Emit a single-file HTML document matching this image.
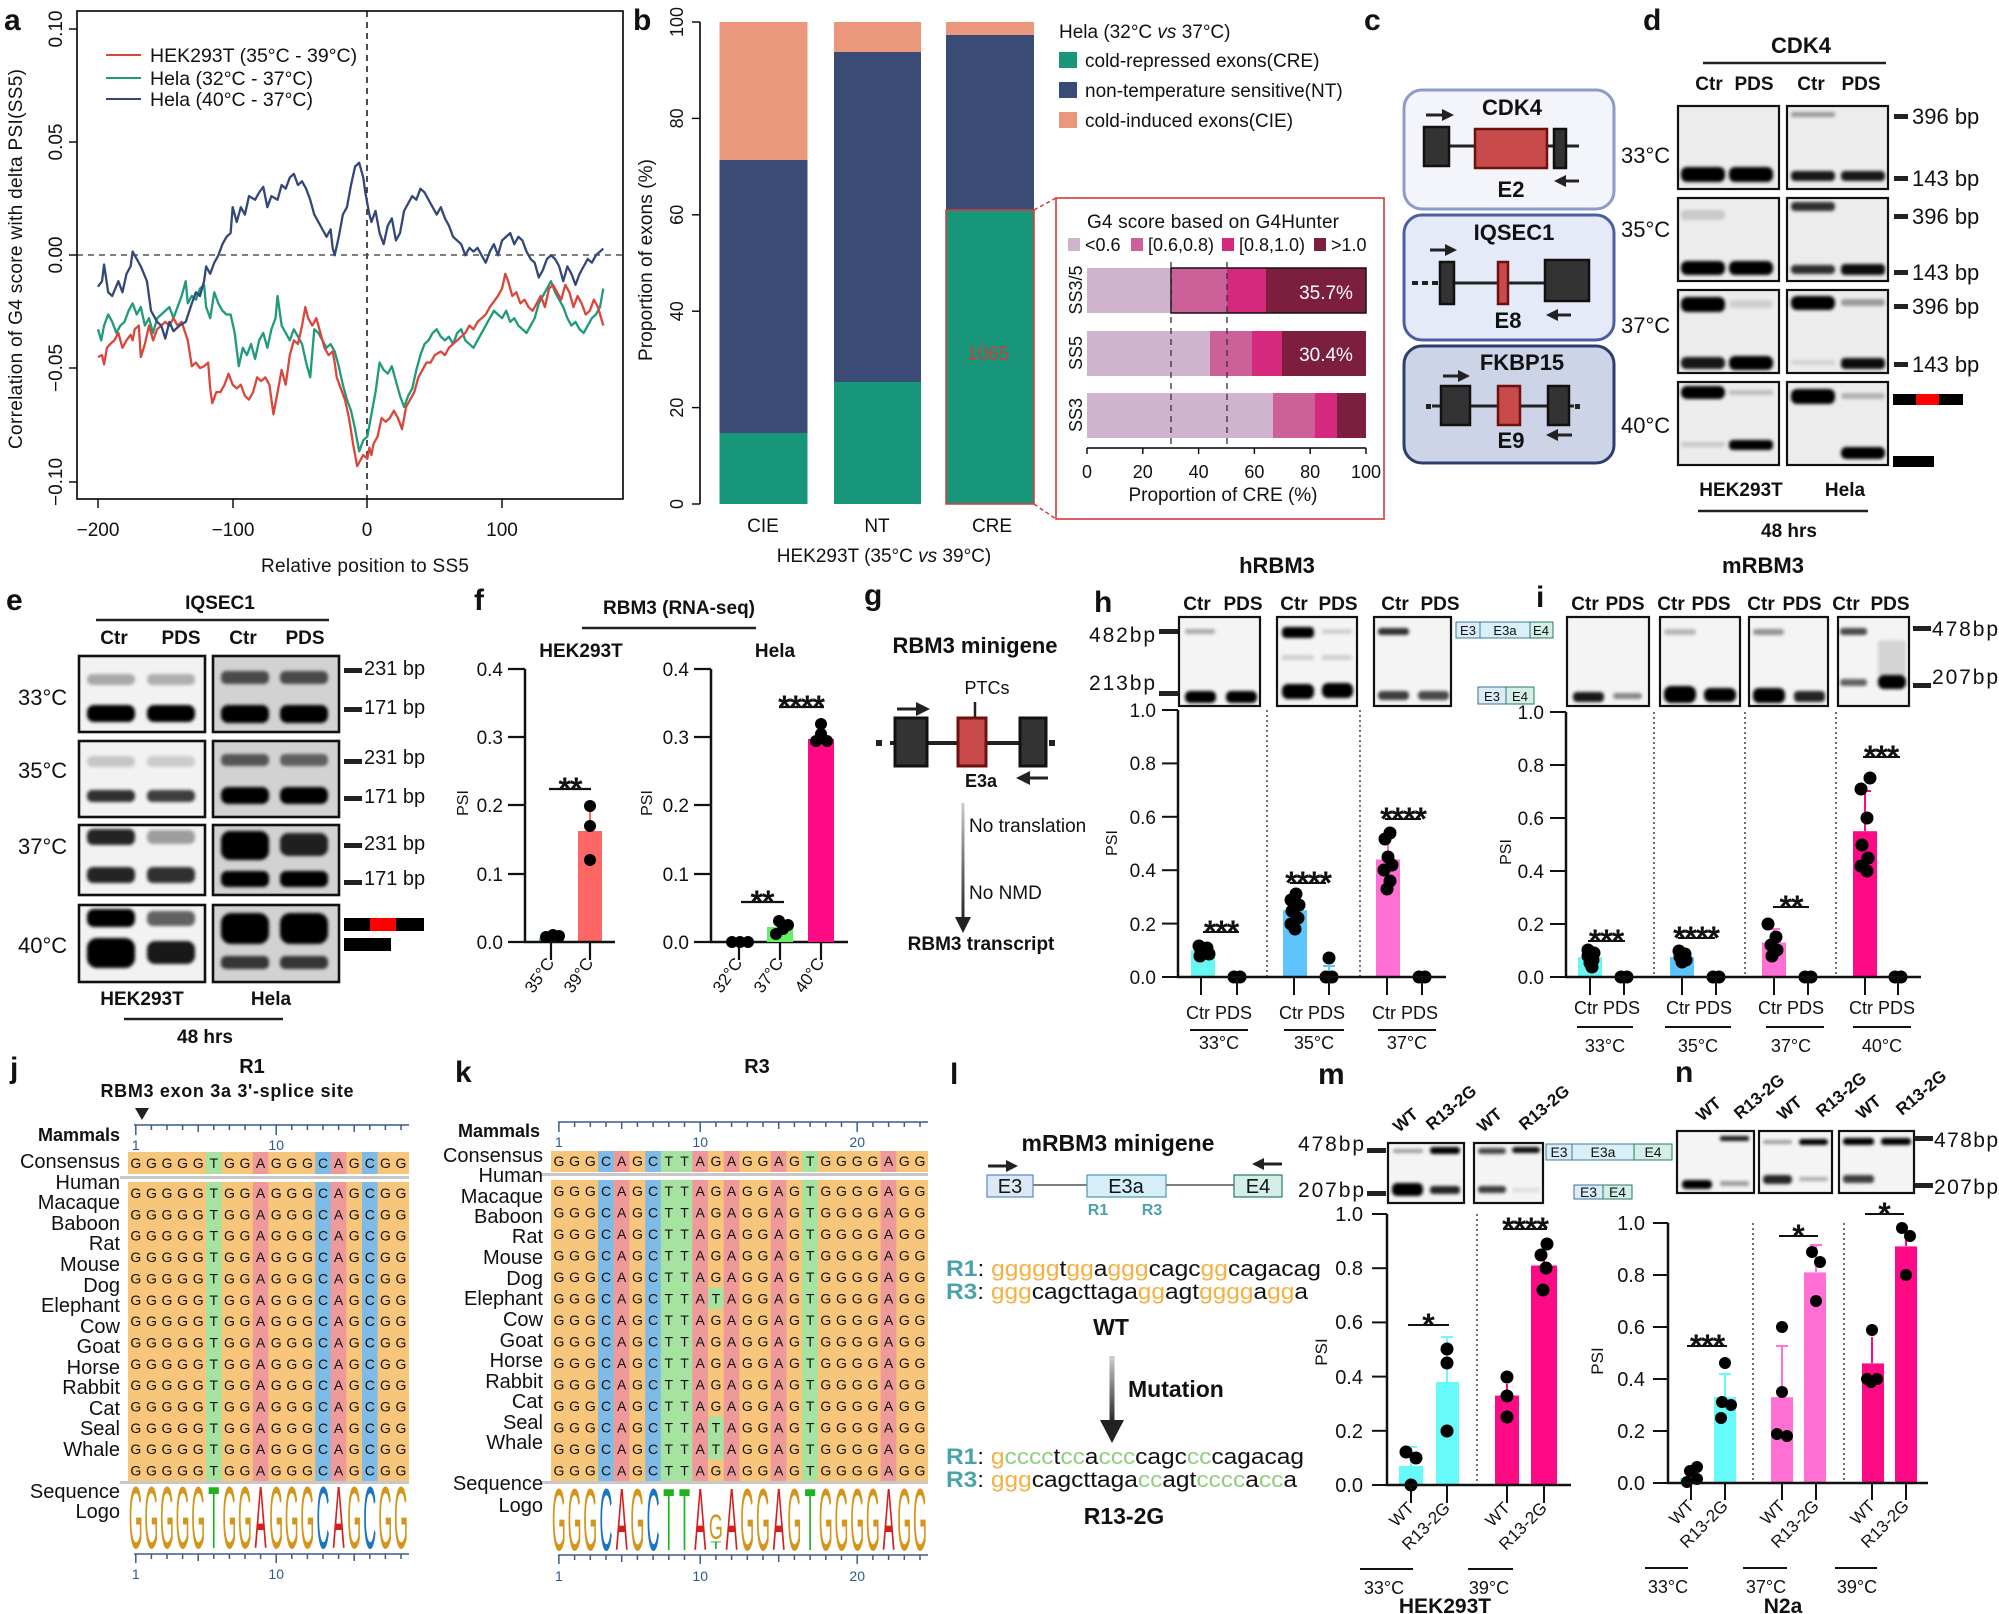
<!DOCTYPE html>
<html><head><meta charset="utf-8"><style>
html,body{margin:0;padding:0;background:#fff;}
svg{display:block;}
text{font-family:"Liberation Sans",Arial,sans-serif;fill:#111;}
.b{font-weight:bold;}
</style></head><body>
<svg width="1999" height="1614" viewBox="0 0 1999 1614" xmlns="http://www.w3.org/2000/svg">
<defs>
<filter id="bl" x="-20%" y="-50%" width="140%" height="200%"><feGaussianBlur stdDeviation="1.6"/></filter>
<linearGradient id="ga" x1="0" y1="0" x2="0" y2="1"><stop offset="0" stop-color="#ccc"/><stop offset="1" stop-color="#222"/></linearGradient>
</defs>
<rect width="1999" height="1614" fill="#fff"/>

<!-- ================= PANEL A ================= -->
<text x="4" y="30" font-size="30" class="b">a</text>
<line x1="367" y1="11" x2="367" y2="499" stroke="#222" stroke-width="1.6" stroke-dasharray="6,5"/>
<line x1="77" y1="255" x2="623" y2="255" stroke="#555" stroke-width="1.6" stroke-dasharray="6,5"/>
<g transform="scale(0.408163,0.369959)" fill="none" stroke-linejoin="round">
<polyline vector-effect="non-scaling-stroke" stroke-width="2.3" stroke="#1f9a7a" points="240,890 248,920 255,880 265,850 275,870 285,900 295,880 305,870 315,840 325,820 335,850 345,830 355,880 365,860 375,900 385,860 395,850 405,840 415,830 425,860 435,830 445,800 455,760 460,820 470,800 480,810 490,780 500,770 505,830 515,860 525,790 535,820 545,840 555,850 565,850 575,900 585,990 595,940 605,960 615,930 625,970 635,920 645,900 655,940 665,890 675,860 680,800 690,880 700,900 710,920 720,890 730,910 740,930 750,980 760,1020 770,890 780,900 790,920 800,940 810,930 820,950 830,990 840,1040 850,1080 860,1110 870,1160 880,1220 890,1190 900,1180 910,1120 920,1060 930,980 940,1000 950,1010 960,990 970,1030 980,1070 990,1100 1000,1070 1010,1050 1020,1000 1030,960 1040,930 1050,920 1060,900 1070,890 1080,910 1090,920 1100,910 1110,930 1120,900 1130,890 1140,920 1150,930 1160,940 1170,920 1180,900 1190,880 1200,860 1210,840 1220,850 1230,860 1240,840 1250,870 1260,860 1270,880 1280,890 1290,900 1300,880 1310,860 1320,820 1330,800 1340,780 1350,760 1360,790 1370,810 1380,830 1390,860 1400,880 1410,870 1420,890 1430,900 1440,880 1450,860 1460,850 1470,830 1478,780"/>
<polyline vector-effect="non-scaling-stroke" stroke-width="2.3" stroke="#d9473c" points="240,965 250,960 255,985 262,940 270,930 280,920 290,900 300,940 310,920 320,905 325,920 330,890 340,880 345,965 355,930 365,880 375,920 385,890 395,880 405,870 415,880 425,860 435,880 445,870 460,920 470,990 480,980 490,995 500,990 510,980 515,1050 520,1090 530,1060 540,1060 550,1040 560,1010 570,1040 580,1050 590,1040 600,1070 610,1080 620,1060 630,1020 640,1030 650,1020 660,1040 670,1120 680,1060 690,1000 700,1040 710,960 720,920 730,930 740,880 748,830 755,860 765,880 775,860 785,900 795,940 805,960 815,950 820,980 825,1020 835,1050 845,1080 855,1130 865,1200 875,1260 880,1250 890,1230 900,1240 905,1210 910,1230 915,1200 925,1180 935,1130 945,1140 955,1130 965,1110 975,1130 985,1160 995,1100 1005,1080 1015,1060 1025,1020 1035,1000 1045,980 1055,980 1065,960 1080,950 1090,960 1100,940 1110,930 1120,920 1130,910 1140,900 1150,880 1160,890 1170,870 1180,860 1190,850 1200,830 1210,815 1220,800 1230,780 1238,740 1245,760 1255,800 1265,790 1275,820 1285,810 1295,830 1305,840 1315,820 1325,800 1335,830 1345,780 1355,770 1365,790 1375,810 1385,770 1395,790 1405,830 1415,800 1425,820 1435,850 1445,840 1455,810 1465,830 1478,880"/>
<polyline vector-effect="non-scaling-stroke" stroke-width="2.3" stroke="#34477a" points="240,775 250,760 255,715 265,790 275,800 290,760 300,790 310,740 320,720 325,680 335,700 345,720 360,760 370,840 385,870 395,880 405,915 415,870 425,895 440,880 455,870 470,820 480,790 490,800 500,760 505,720 515,740 525,710 535,690 545,660 555,640 565,630 570,560 580,600 590,560 600,580 610,530 625,540 635,520 645,505 655,560 665,530 680,540 690,500 700,510 710,480 720,470 730,500 740,490 750,510 760,540 770,580 780,600 790,620 800,640 810,620 815,670 820,690 830,640 840,580 850,560 860,500 870,450 880,440 890,480 895,520 900,550 905,580 910,600 920,570 930,630 940,660 950,610 960,590 970,650 980,630 990,570 1000,550 1010,530 1020,540 1030,510 1040,520 1050,540 1060,560 1070,580 1080,560 1090,590 1100,610 1110,640 1120,650 1130,660 1140,690 1150,670 1160,680 1170,670 1180,690 1190,710 1200,680 1210,660 1220,690 1230,650 1240,640 1250,630 1260,660 1270,640 1280,650 1290,680 1300,700 1310,710 1320,750 1330,730 1340,700 1350,690 1360,700 1370,720 1380,760 1390,720 1400,740 1410,770 1420,740 1430,720 1440,700 1450,710 1460,690 1470,680 1478,672"/>
</g>
<rect x="77" y="11" width="546" height="488" fill="none" stroke="#000" stroke-width="1.6"/>
<g stroke="#000" stroke-width="1.4">
<line x1="69" y1="29" x2="77" y2="29"/><line x1="69" y1="142" x2="77" y2="142"/><line x1="69" y1="255" x2="77" y2="255"/><line x1="69" y1="368" x2="77" y2="368"/><line x1="69" y1="482" x2="77" y2="482"/>
<line x1="98" y1="499" x2="98" y2="508"/><line x1="233" y1="499" x2="233" y2="508"/><line x1="367" y1="499" x2="367" y2="508"/><line x1="502" y1="499" x2="502" y2="508"/>
</g>
<g font-size="19" text-anchor="middle">
<text transform="translate(62,29) rotate(-90)">0.10</text>
<text transform="translate(62,142) rotate(-90)">0.05</text>
<text transform="translate(62,255) rotate(-90)">0.00</text>
<text transform="translate(62,368) rotate(-90)">−0.05</text>
<text transform="translate(62,482) rotate(-90)">−0.10</text>
<text x="98" y="536">−200</text><text x="233" y="536">−100</text><text x="367" y="536">0</text><text x="502" y="536">100</text>
<text x="365" y="572" textLength="208">Relative position to SS5</text>
<text transform="translate(22,259) rotate(-90)" textLength="380">Correlation of G4 score with delta PSI(SS5)</text>
</g>
<line x1="106" y1="55" x2="141" y2="55" stroke="#d9473c" stroke-width="2"/>
<line x1="106" y1="78" x2="141" y2="78" stroke="#1f9a7a" stroke-width="2"/>
<line x1="106" y1="99" x2="141" y2="99" stroke="#34477a" stroke-width="2"/>
<g font-size="19.5">
<text x="150" y="62">HEK293T (35°C - 39°C)</text>
<text x="150" y="85">Hela (32°C - 37°C)</text>
<text x="150" y="106">Hela (40°C - 37°C)</text>
</g>

<!-- ================= PANEL B ================= -->
<text x="633" y="30" font-size="30" class="b">b</text>
<rect x="719.5" y="22" width="88" height="138" fill="#ea977b"/>
<rect x="719.5" y="160" width="88" height="273" fill="#3a4b76"/>
<rect x="719.5" y="433" width="88" height="71" fill="#17967a"/>
<rect x="834" y="22" width="87" height="30" fill="#ea977b"/>
<rect x="834" y="52" width="87" height="330" fill="#3a4b76"/>
<rect x="834" y="382" width="87" height="122" fill="#17967a"/>
<rect x="946" y="22" width="88" height="13" fill="#ea977b"/>
<rect x="946" y="35" width="88" height="175" fill="#3a4b76"/>
<rect x="946" y="210" width="88" height="294" fill="#17967a" stroke="#d63a3a" stroke-width="1.5"/>
<text x="988" y="360" font-size="19" text-anchor="middle" style="fill:#d23c3c">1065</text>
<line x1="700" y1="22" x2="700" y2="504" stroke="#000" stroke-width="1.6"/>
<g stroke="#000" stroke-width="1.4">
<line x1="692" y1="22" x2="700" y2="22"/><line x1="692" y1="118.4" x2="700" y2="118.4"/><line x1="692" y1="214.8" x2="700" y2="214.8"/><line x1="692" y1="311.2" x2="700" y2="311.2"/><line x1="692" y1="407.6" x2="700" y2="407.6"/><line x1="692" y1="504" x2="700" y2="504"/>
</g>
<g font-size="18" text-anchor="middle">
<text transform="translate(683,22) rotate(-90)">100</text>
<text transform="translate(683,118.4) rotate(-90)">80</text>
<text transform="translate(683,214.8) rotate(-90)">60</text>
<text transform="translate(683,311.2) rotate(-90)">40</text>
<text transform="translate(683,407.6) rotate(-90)">20</text>
<text transform="translate(683,504) rotate(-90)">0</text>
<text transform="translate(652,260) rotate(-90)" textLength="202" font-size="19">Proportion of exons (%)</text>
<text x="763" y="532" font-size="19">CIE</text><text x="877" y="532" font-size="19">NT</text><text x="992" y="532" font-size="19">CRE</text>
<text x="884" y="562" font-size="19">HEK293T (35°C <tspan font-style="italic">vs</tspan> 39°C)</text>
</g>
<text x="1059" y="38" font-size="19">Hela (32°C <tspan font-style="italic">vs</tspan> 37°C)</text>
<rect x="1059" y="52" width="18" height="16" fill="#17967a"/>
<rect x="1059" y="82" width="18" height="16" fill="#3a4b76"/>
<rect x="1059" y="112" width="18" height="16" fill="#ea977b"/>
<g font-size="19">
<text x="1085" y="67">cold-repressed exons(CRE)</text>
<text x="1085" y="97">non-temperature sensitive(NT)</text>
<text x="1085" y="127">cold-induced exons(CIE)</text>
</g>
<!-- inset -->
<line x1="1034" y1="210" x2="1056" y2="198" stroke="#d63a3a" stroke-width="1.5" stroke-dasharray="4,3"/>
<line x1="1034" y1="504" x2="1056" y2="519" stroke="#d63a3a" stroke-width="1.5" stroke-dasharray="4,3"/>
<rect x="1056" y="198" width="328" height="321" fill="#fff" stroke="#d63a3a" stroke-width="1.6"/>
<text x="1087" y="228" font-size="19" textLength="252">G4 score based on G4Hunter</text>
<rect x="1068" y="238" width="12" height="13" fill="#d0b3cc"/>
<rect x="1131" y="238" width="12" height="13" fill="#cc6199"/>
<rect x="1222" y="238" width="12" height="13" fill="#d5297f"/>
<rect x="1314" y="238" width="12" height="13" fill="#7c1e3e"/>
<g font-size="18">
<text x="1085" y="251">&lt;0.6</text><text x="1148" y="251">[0.6,0.8)</text><text x="1239" y="251">[0.8,1.0)</text><text x="1331" y="251">&gt;1.0</text>
</g>
<rect x="1087" y="268" width="84" height="45" fill="#d0b3cc"/><rect x="1171" y="268" width="56" height="45" fill="#cc6199"/><rect x="1227" y="268" width="39" height="45" fill="#d5297f"/><rect x="1266" y="268" width="100" height="45" fill="#7c1e3e"/>
<rect x="1171" y="268" width="195" height="45" fill="none" stroke="#111" stroke-width="1.5"/>
<rect x="1087" y="331" width="123" height="45" fill="#d0b3cc"/><rect x="1210" y="331" width="42" height="45" fill="#cc6199"/><rect x="1252" y="331" width="30" height="45" fill="#d5297f"/><rect x="1282" y="331" width="84" height="45" fill="#7c1e3e"/>
<rect x="1087" y="393" width="186" height="45" fill="#d0b3cc"/><rect x="1273" y="393" width="42" height="45" fill="#cc6199"/><rect x="1315" y="393" width="22" height="45" fill="#d5297f"/><rect x="1337" y="393" width="29" height="45" fill="#7c1e3e"/>
<line x1="1171" y1="262" x2="1171" y2="448" stroke="#333" stroke-width="1.3" stroke-dasharray="6,5"/>
<line x1="1227" y1="262" x2="1227" y2="448" stroke="#333" stroke-width="1.3" stroke-dasharray="6,5"/>
<text x="1326" y="299" font-size="19" text-anchor="middle" style="fill:#fff">35.7%</text>
<text x="1326" y="361" font-size="19" text-anchor="middle" style="fill:#fff">30.4%</text>
<line x1="1087" y1="448" x2="1366" y2="448" stroke="#000" stroke-width="1.6"/>
<g stroke="#000" stroke-width="1.4">
<line x1="1087" y1="448" x2="1087" y2="454"/><line x1="1142.8" y1="448" x2="1142.8" y2="454"/><line x1="1198.6" y1="448" x2="1198.6" y2="454"/><line x1="1254.4" y1="448" x2="1254.4" y2="454"/><line x1="1310.2" y1="448" x2="1310.2" y2="454"/><line x1="1366" y1="448" x2="1366" y2="454"/>
</g>
<g font-size="18" text-anchor="middle">
<text x="1087" y="478">0</text><text x="1142.8" y="478">20</text><text x="1198.6" y="478">40</text><text x="1254.4" y="478">60</text><text x="1310.2" y="478">80</text><text x="1366" y="478">100</text>
<text x="1223" y="501" font-size="19">Proportion of CRE (%)</text>
<text transform="translate(1082,290) rotate(-90)">SS3/5</text>
<text transform="translate(1082,353) rotate(-90)">SS5</text>
<text transform="translate(1082,415) rotate(-90)">SS3</text>
</g>

<!-- ================= PANEL C ================= -->
<text x="1364" y="30" font-size="30" class="b">c</text>
<rect x="1404" y="90" width="210" height="119" rx="18" fill="#f3f5fb" stroke="#8c9cc6" stroke-width="3"/>
<rect x="1404" y="215" width="210" height="125" rx="18" fill="#e4eaf8" stroke="#4b5fa3" stroke-width="3"/>
<rect x="1404" y="346" width="210" height="117" rx="18" fill="#cdd4e7" stroke="#2f3d6b" stroke-width="3"/>
<g font-size="22" class="b" text-anchor="middle">
<text x="1512" y="115">CDK4</text><text x="1514" y="240">IQSEC1</text><text x="1522" y="370">FKBP15</text>
<text x="1511" y="197">E2</text><text x="1508" y="328">E8</text><text x="1511" y="448">E9</text>
</g>
<line x1="1449" y1="146" x2="1579" y2="146" stroke="#222" stroke-width="3"/>
<rect x="1424" y="127" width="25" height="39" fill="#333" stroke="#111" stroke-width="2.5"/>
<rect x="1475" y="129" width="72" height="39" fill="#c94a4a" stroke="#6d1010" stroke-width="2.5"/>
<rect x="1554" y="129" width="12" height="39" fill="#333" stroke="#111" stroke-width="2.5"/>
<line x1="1412" y1="283" x2="1440" y2="283" stroke="#222" stroke-width="4" stroke-dasharray="6,4"/>
<line x1="1440" y1="283" x2="1545" y2="283" stroke="#222" stroke-width="3"/>
<rect x="1440" y="262" width="14" height="42" fill="#333" stroke="#111" stroke-width="2.5"/>
<rect x="1498" y="262" width="10" height="42" fill="#c94a4a" stroke="#6d1010" stroke-width="2.5"/>
<rect x="1545" y="260" width="44" height="41" fill="#333" stroke="#111" stroke-width="2.5"/>
<line x1="1432" y1="406" x2="1574" y2="406" stroke="#222" stroke-width="3"/>
<rect x="1426" y="404" width="5" height="5" fill="#222"/><rect x="1575" y="404" width="5" height="5" fill="#222"/>
<rect x="1441" y="386" width="29" height="39" fill="#333" stroke="#111" stroke-width="2.5"/>
<rect x="1498" y="386" width="22" height="39" fill="#c94a4a" stroke="#6d1010" stroke-width="2.5"/>
<rect x="1548" y="386" width="21" height="39" fill="#333" stroke="#111" stroke-width="2.5"/>
<g stroke="#222" stroke-width="3">
<line x1="1426" y1="115" x2="1444" y2="115"/><line x1="1563" y1="181" x2="1579" y2="181"/>
<line x1="1430" y1="250" x2="1447" y2="250"/><line x1="1555" y1="315" x2="1571" y2="315"/>
<line x1="1443" y1="376" x2="1460" y2="376"/><line x1="1555" y1="435" x2="1572" y2="435"/>
<line x1="897" y1="709" x2="918" y2="709"/><line x1="1027" y1="778" x2="1048" y2="778"/>
<line x1="988" y1="1166" x2="1008" y2="1166"/><line x1="1262" y1="1164" x2="1282" y2="1164"/>
</g>
<g fill="#222">
<polygon points="1442,109 1454,115 1442,121"/><polygon points="1566,175 1554,181 1566,187"/>
<polygon points="1445,244 1457,250 1445,256"/><polygon points="1558,309 1546,315 1558,321"/>
<polygon points="1458,370 1470,376 1458,382"/><polygon points="1558,429 1546,435 1558,441"/>
<polygon points="916,702 930,709 916,716"/><polygon points="1030,771 1016,778 1030,785"/>
<polygon points="1006,1160 1018,1166 1006,1172"/><polygon points="1264,1158 1252,1164 1264,1170"/>
</g>

<!-- ================= PANEL D ================= -->
<text x="1643" y="30" font-size="30" class="b">d</text>
<text x="1801" y="53" font-size="22" class="b" text-anchor="middle">CDK4</text>
<line x1="1703" y1="63" x2="1886" y2="63" stroke="#222" stroke-width="2.5"/>
<g font-size="19" class="b" text-anchor="middle">
<text x="1709" y="90">Ctr</text><text x="1754" y="90">PDS</text><text x="1811" y="90">Ctr</text><text x="1861" y="90">PDS</text>
<text x="1741" y="496">HEK293T</text><text x="1845" y="496">Hela</text><text x="1789" y="537">48 hrs</text>
</g>
<line x1="1698" y1="511" x2="1868" y2="511" stroke="#222" stroke-width="2.5"/>
<g fill="#ececec">
<rect x="1678" y="106" width="101" height="83"/><rect x="1787" y="106" width="101" height="83"/>
<rect x="1678" y="198" width="101" height="83"/><rect x="1787" y="198" width="101" height="83"/>
<rect x="1678" y="290" width="101" height="83"/><rect x="1787" y="290" width="101" height="83"/>
<rect x="1678" y="382" width="101" height="83"/><rect x="1787" y="382" width="101" height="83"/>
</g>
<g filter="url(#bl)" fill="#000">
<rect x="1681" y="167" width="44" height="15" rx="6"/><rect x="1729" y="167" width="44" height="15" rx="6"/>
<rect x="1791" y="112" width="44" height="5" rx="2" fill-opacity=".35"/>
<rect x="1791" y="171" width="44" height="10" rx="4" fill-opacity=".9"/><rect x="1841" y="171" width="44" height="10" rx="4" fill-opacity=".9"/>
<rect x="1681" y="210" width="44" height="10" rx="4" fill-opacity=".15"/>
<rect x="1681" y="261" width="44" height="14" rx="6"/><rect x="1729" y="261" width="44" height="14" rx="6"/>
<rect x="1791" y="202" width="44" height="9" rx="4" fill-opacity=".8"/>
<rect x="1791" y="265" width="44" height="9" rx="4" fill-opacity=".8"/><rect x="1841" y="264" width="44" height="11" rx="4" fill-opacity=".95"/>
<rect x="1681" y="297" width="44" height="15" rx="6"/><rect x="1729" y="300" width="44" height="8" rx="4" fill-opacity=".12"/>
<rect x="1681" y="357" width="44" height="12" rx="5" fill-opacity=".9"/><rect x="1729" y="356" width="44" height="14" rx="6"/>
<rect x="1791" y="296" width="44" height="14" rx="6"/><rect x="1841" y="299" width="44" height="7" rx="3" fill-opacity=".35"/>
<rect x="1791" y="360" width="44" height="5" rx="2" fill-opacity=".1"/><rect x="1841" y="358" width="44" height="11" rx="4" fill-opacity=".95"/>
<rect x="1681" y="386" width="44" height="13" rx="6"/><rect x="1729" y="390" width="44" height="5" rx="2" fill-opacity=".2"/>
<rect x="1681" y="442" width="44" height="5" rx="2" fill-opacity=".15"/><rect x="1729" y="440" width="44" height="10" rx="4"/>
<rect x="1791" y="389" width="44" height="15" rx="6"/><rect x="1841" y="393" width="44" height="6" rx="3" fill-opacity=".25"/>
<rect x="1841" y="447" width="44" height="12" rx="5"/>
</g>
<g fill="none" stroke="#111" stroke-width="2.2">
<rect x="1678" y="106" width="101" height="83"/><rect x="1787" y="106" width="101" height="83"/>
<rect x="1678" y="198" width="101" height="83"/><rect x="1787" y="198" width="101" height="83"/>
<rect x="1678" y="290" width="101" height="83"/><rect x="1787" y="290" width="101" height="83"/>
<rect x="1678" y="382" width="101" height="83"/><rect x="1787" y="382" width="101" height="83"/>
</g>
<g font-size="22">
<text x="1621" y="163">33°C</text><text x="1621" y="237">35°C</text><text x="1621" y="333">37°C</text><text x="1621" y="433">40°C</text>
</g>
<g fill="#222">
<rect x="1894" y="114" width="14" height="5"/><rect x="1894" y="176" width="14" height="5"/>
<rect x="1894" y="214" width="14" height="5"/><rect x="1894" y="270" width="14" height="5"/>
<rect x="1894" y="304" width="14" height="5"/><rect x="1894" y="362" width="14" height="5"/>
<rect x="1893" y="394" width="70" height="11" fill="#000"/><rect x="1916" y="394" width="23" height="11" fill="#f00"/>
<rect x="1893" y="456" width="41" height="11" fill="#000"/>
</g>
<g font-size="22">
<text x="1912" y="124">396 bp</text><text x="1912" y="186">143 bp</text>
<text x="1912" y="224">396 bp</text><text x="1912" y="280">143 bp</text>
<text x="1912" y="314">396 bp</text><text x="1912" y="372">143 bp</text>
</g>

<!-- ================= PANEL E ================= -->
<text x="6" y="610" font-size="30" class="b">e</text>
<text x="220" y="609" font-size="19" class="b" text-anchor="middle">IQSEC1</text>
<line x1="96" y1="620" x2="329" y2="620" stroke="#222" stroke-width="2.5"/>
<g font-size="19" class="b" text-anchor="middle">
<text x="114" y="644">Ctr</text><text x="181" y="644">PDS</text><text x="243" y="644">Ctr</text><text x="305" y="644">PDS</text>
<text x="142" y="1005">HEK293T</text><text x="271" y="1005">Hela</text><text x="205" y="1043">48 hrs</text>
</g>
<line x1="124" y1="1019" x2="283" y2="1019" stroke="#222" stroke-width="2.5"/>
<g fill="#f2f2f2">
<rect x="79" y="656" width="126" height="76"/><rect x="79" y="741" width="126" height="76"/><rect x="79" y="825" width="126" height="70"/><rect x="79" y="905" width="126" height="77"/>
</g>
<g fill="#d2d2d2">
<rect x="213" y="656" width="126" height="76"/><rect x="213" y="741" width="126" height="76"/><rect x="213" y="825" width="126" height="70"/><rect x="213" y="905" width="126" height="77"/>
</g>
<g filter="url(#bl)" fill="#000">
<rect x="87" y="674" width="48" height="11" rx="5" fill-opacity=".3"/><rect x="147" y="674" width="48" height="11" rx="5" fill-opacity=".28"/>
<rect x="87" y="705" width="48" height="17" rx="7"/><rect x="147" y="705" width="48" height="17" rx="7"/>
<rect x="221" y="671" width="48" height="13" rx="5" fill-opacity=".65"/><rect x="280" y="671" width="48" height="13" rx="5" fill-opacity=".65"/>
<rect x="221" y="705" width="48" height="18" rx="7"/><rect x="280" y="705" width="48" height="18" rx="7"/>
<rect x="87" y="756" width="48" height="11" rx="5" fill-opacity=".18"/><rect x="147" y="756" width="48" height="11" rx="5" fill-opacity=".16"/>
<rect x="87" y="790" width="48" height="12" rx="5" fill-opacity=".8"/><rect x="147" y="790" width="48" height="12" rx="5" fill-opacity=".75"/>
<rect x="221" y="754" width="48" height="12" rx="5" fill-opacity=".6"/><rect x="280" y="754" width="48" height="12" rx="5" fill-opacity=".55"/>
<rect x="221" y="787" width="48" height="17" rx="7"/><rect x="280" y="787" width="48" height="17" rx="7"/>
<rect x="87" y="829" width="48" height="16" rx="6" fill-opacity=".85"/><rect x="147" y="830" width="48" height="14" rx="6" fill-opacity=".35"/>
<rect x="87" y="867" width="48" height="16" rx="6" fill-opacity=".85"/><rect x="147" y="867" width="48" height="16" rx="6" fill-opacity=".8"/>
<rect x="221" y="831" width="48" height="29" rx="9"/><rect x="280" y="833" width="48" height="23" rx="8" fill-opacity=".85"/>
<rect x="221" y="871" width="48" height="16" rx="6"/><rect x="280" y="871" width="48" height="16" rx="6"/>
<rect x="87" y="909" width="48" height="18" rx="7"/><rect x="147" y="911" width="48" height="15" rx="6" fill-opacity=".6"/>
<rect x="87" y="938" width="48" height="30" rx="10"/><rect x="147" y="941" width="48" height="23" rx="8" fill-opacity=".9"/>
<rect x="221" y="913" width="48" height="31" rx="10"/><rect x="280" y="913" width="48" height="31" rx="10"/>
<rect x="221" y="956" width="48" height="13" rx="5" fill-opacity=".75"/><rect x="280" y="956" width="48" height="13" rx="5" fill-opacity=".75"/>
</g>
<g fill="none" stroke="#111" stroke-width="2.6">
<rect x="79" y="656" width="126" height="76"/><rect x="79" y="741" width="126" height="76"/><rect x="79" y="825" width="126" height="70"/><rect x="79" y="905" width="126" height="77"/>
<rect x="213" y="656" width="126" height="76"/><rect x="213" y="741" width="126" height="76"/><rect x="213" y="825" width="126" height="70"/><rect x="213" y="905" width="126" height="77"/>
</g>
<g font-size="22">
<text x="18" y="705">33°C</text><text x="18" y="778">35°C</text><text x="18" y="854">37°C</text><text x="18" y="953">40°C</text>
</g>
<g fill="#222">
<rect x="344" y="668" width="18" height="5"/><rect x="344" y="707" width="18" height="5"/>
<rect x="344" y="759" width="18" height="5"/><rect x="344" y="796" width="18" height="5"/>
<rect x="344" y="843" width="18" height="5"/><rect x="344" y="880" width="18" height="5"/>
<rect x="344" y="918" width="80" height="13" fill="#000"/><rect x="370" y="918" width="26" height="13" fill="#f00"/>
<rect x="344" y="938" width="47" height="13" fill="#000"/>
</g>
<g font-size="20">
<text x="364" y="675">231 bp</text><text x="364" y="714">171 bp</text>
<text x="364" y="764">231 bp</text><text x="364" y="803">171 bp</text>
<text x="364" y="850">231 bp</text><text x="364" y="885">171 bp</text>
</g>

<!-- ================= PANEL F ================= -->
<text x="474" y="610" font-size="30" class="b">f</text>
<text x="679" y="614" font-size="19" class="b" text-anchor="middle">RBM3 (RNA-seq)</text>
<line x1="582" y1="628" x2="756" y2="628" stroke="#222" stroke-width="2.5"/>
<text x="581" y="657" font-size="19" class="b" text-anchor="middle">HEK293T</text>
<text x="775" y="657" font-size="19" class="b" text-anchor="middle">Hela</text>
<rect x="539" y="938" width="25" height="4" fill="#4db3ff"/>
<rect x="578" y="831" width="24" height="111" fill="#ff6666"/>
<line x1="590" y1="831" x2="590" y2="806" stroke="#ff6666" stroke-width="2"/><line x1="584" y1="806" x2="596" y2="806" stroke="#ff6666" stroke-width="2"/>
<line x1="525" y1="669" x2="525" y2="942" stroke="#111" stroke-width="2.5"/>
<line x1="524" y1="942" x2="615" y2="942" stroke="#111" stroke-width="2.5"/>
<g stroke="#111" stroke-width="2.2">
<line x1="508" y1="669" x2="525" y2="669"/><line x1="508" y1="737" x2="525" y2="737"/><line x1="508" y1="805" x2="525" y2="805"/><line x1="508" y1="874" x2="525" y2="874"/><line x1="508" y1="942" x2="525" y2="942"/>
<line x1="551" y1="942" x2="551" y2="960"/><line x1="590" y1="942" x2="590" y2="960"/>
<line x1="549" y1="789" x2="591" y2="789"/>
<line x1="711" y1="669" x2="711" y2="942" stroke-width="2.5"/><line x1="710" y1="942" x2="848" y2="942" stroke-width="2.5"/>
<line x1="694" y1="669" x2="711" y2="669"/><line x1="694" y1="737" x2="711" y2="737"/><line x1="694" y1="805" x2="711" y2="805"/><line x1="694" y1="874" x2="711" y2="874"/><line x1="694" y1="942" x2="711" y2="942"/>
<line x1="739" y1="942" x2="739" y2="960"/><line x1="780" y1="942" x2="780" y2="960"/><line x1="821" y1="942" x2="821" y2="960"/>
<line x1="741" y1="902" x2="784" y2="902"/><line x1="779" y1="707" x2="824" y2="707"/>
</g>
<rect x="767" y="927" width="26" height="15" fill="#66ee66"/>
<rect x="808" y="739" width="26" height="203" fill="#ff0a85"/>
<line x1="821" y1="739" x2="821" y2="722" stroke="#ff0a85" stroke-width="2"/>
<g fill="#000">
<circle cx="546" cy="937" r="6"/><circle cx="553" cy="935" r="6"/><circle cx="559" cy="936" r="6"/>
<circle cx="590" cy="806" r="6"/><circle cx="590" cy="826" r="6"/><circle cx="590" cy="860" r="6"/>
<circle cx="732" cy="942" r="6"/><circle cx="740" cy="942" r="6"/><circle cx="748" cy="942" r="6"/>
<circle cx="776" cy="934" r="6"/><circle cx="783" cy="929" r="6"/><circle cx="788" cy="925" r="6"/><circle cx="779" cy="921" r="6"/>
<circle cx="821" cy="724" r="6"/><circle cx="816" cy="741" r="6"/><circle cx="827" cy="741" r="6"/><circle cx="821" cy="734" r="6"/>
</g>
<g font-size="19" text-anchor="end">
<text x="503" y="676">0.4</text><text x="503" y="744">0.3</text><text x="503" y="812">0.2</text><text x="503" y="881">0.1</text><text x="503" y="949">0.0</text>
<text x="689" y="676">0.4</text><text x="689" y="744">0.3</text><text x="689" y="812">0.2</text><text x="689" y="881">0.1</text><text x="689" y="949">0.0</text>
</g>
<g font-size="17" text-anchor="end">
<text transform="translate(555,963) rotate(-55)">35°C</text><text transform="translate(594,963) rotate(-55)">39°C</text>
<text transform="translate(743,963) rotate(-55)">32°C</text><text transform="translate(784,963) rotate(-55)">37°C</text><text transform="translate(825,963) rotate(-55)">40°C</text>
</g>
<g font-size="16" text-anchor="middle">
<text transform="translate(468,803) rotate(-90)">PSI</text><text transform="translate(652,803) rotate(-90)">PSI</text>
</g>
<g font-size="32" class="b" text-anchor="middle" letter-spacing="-1">
<text x="570" y="800">**</text><text x="762" y="913">**</text><text x="801" y="718">****</text>
</g>

<!-- ================= PANEL G ================= -->
<text x="864" y="605" font-size="30" class="b">g</text>
<text x="975" y="653" font-size="22" class="b" text-anchor="middle">RBM3 minigene</text>
<text x="987" y="694" font-size="18" text-anchor="middle">PTCs</text>
<line x1="975" y1="702" x2="975" y2="718" stroke="#222" stroke-width="2.5"/>
<line x1="890" y1="743" x2="1046" y2="743" stroke="#222" stroke-width="4"/>
<rect x="876" y="740" width="6" height="6" fill="#222"/><rect x="1049" y="740" width="6" height="6" fill="#222"/>
<rect x="895" y="718" width="32" height="48" fill="#333" stroke="#111" stroke-width="3"/>
<rect x="958" y="718" width="28" height="48" fill="#c94a4a" stroke="#6d1010" stroke-width="3"/>
<rect x="1020" y="718" width="26" height="48" fill="#333" stroke="#111" stroke-width="3"/>
<text x="981" y="787" font-size="18" class="b" text-anchor="middle">E3a</text>
<rect x="961.5" y="803" width="3" height="117" fill="url(#ga)"/>
<polygon points="955,917 971,917 963,933" fill="#222"/>
<text x="969" y="832" font-size="19">No translation</text>
<text x="969" y="899" font-size="19">No NMD</text>
<text x="981" y="950" font-size="19" class="b" text-anchor="middle">RBM3 transcript</text>

<!-- ================= PANEL H ================= -->
<text x="1277" y="573" font-size="22" class="b" text-anchor="middle">hRBM3</text>
<text x="1763" y="573" font-size="22" class="b" text-anchor="middle">mRBM3</text>
<text x="1094" y="612" font-size="30" class="b">h</text>
<text x="1536" y="607" font-size="30" class="b">i</text>
<g font-size="19" class="b" text-anchor="middle">
<text x="1197" y="610">Ctr</text><text x="1243" y="610">PDS</text>
<text x="1294" y="610">Ctr</text><text x="1338" y="610">PDS</text>
<text x="1395" y="610">Ctr</text><text x="1440" y="610">PDS</text>
<text x="1585" y="610">Ctr</text><text x="1625" y="610">PDS</text>
<text x="1671" y="610">Ctr</text><text x="1711" y="610">PDS</text>
<text x="1761" y="610">Ctr</text><text x="1802" y="610">PDS</text>
<text x="1846" y="610">Ctr</text><text x="1890" y="610">PDS</text>
</g>
<g fill="#f4f4f4">
<rect x="1179" y="617" width="81" height="89"/><rect x="1277" y="617" width="80" height="89"/><rect x="1374" y="617" width="77" height="89"/>
<rect x="1567" y="617" width="82" height="89"/><rect x="1660" y="617" width="80" height="89"/><rect x="1749" y="617" width="79" height="89"/><rect x="1838" y="617" width="71" height="89"/>
</g>
<g filter="url(#bl)" fill="#000">
<rect x="1185" y="629" width="30" height="5" rx="2" fill-opacity=".3"/>
<rect x="1185" y="691" width="31" height="12" rx="5"/><rect x="1226" y="691" width="31" height="12" rx="5"/>
<rect x="1282" y="627" width="32" height="11" rx="4"/><rect x="1322" y="629" width="30" height="5" rx="2" fill-opacity=".15"/>
<rect x="1282" y="655" width="32" height="5" rx="2" fill-opacity=".15"/><rect x="1322" y="655" width="30" height="5" rx="2" fill-opacity=".15"/>
<rect x="1282" y="684" width="32" height="15" rx="6"/><rect x="1322" y="683" width="31" height="15" rx="6"/>
<rect x="1378" y="628" width="31" height="7" rx="3" fill-opacity=".8"/>
<rect x="1378" y="691" width="31" height="9" rx="4" fill-opacity=".75"/><rect x="1418" y="691" width="31" height="9" rx="4" fill-opacity=".7"/>
<rect x="1573" y="692" width="31" height="10" rx="4" fill-opacity=".9"/><rect x="1613" y="693" width="29" height="6" rx="3" fill-opacity=".45"/>
<rect x="1664" y="629" width="32" height="6" rx="3" fill-opacity=".25"/>
<rect x="1664" y="686" width="32" height="17" rx="7"/><rect x="1704" y="688" width="32" height="14" rx="6"/>
<rect x="1753" y="629" width="31" height="6" rx="3" fill-opacity=".4"/>
<rect x="1753" y="688" width="32" height="15" rx="6"/><rect x="1794" y="691" width="31" height="11" rx="4" fill-opacity=".85"/>
<rect x="1840" y="628" width="27" height="7" rx="3" fill-opacity=".7"/>
<rect x="1840" y="679" width="27" height="7" rx="3" fill-opacity=".6"/>
<rect x="1878" y="640" width="28" height="36" rx="3" fill-opacity=".13"/>
<rect x="1878" y="675" width="28" height="14" rx="6"/>
</g>
<g fill="none" stroke="#111" stroke-width="2.2">
<rect x="1179" y="617" width="81" height="89"/><rect x="1277" y="617" width="80" height="89"/><rect x="1374" y="617" width="77" height="89"/>
<rect x="1567" y="617" width="82" height="89"/><rect x="1660" y="617" width="80" height="89"/><rect x="1749" y="617" width="79" height="89"/><rect x="1838" y="617" width="71" height="89"/>
</g>
<g font-size="21" text-anchor="end">
<text x="1155" y="642" textLength="66">482bp</text><text x="1155" y="690" textLength="66">213bp</text>
</g>
<rect x="1159" y="629" width="19" height="5" fill="#222"/><rect x="1159" y="691" width="19" height="5" fill="#222"/>
<text x="1932" y="636" font-size="21" textLength="66">478bp</text><text x="1932" y="684" font-size="21" textLength="66">207bp</text>
<rect x="1913" y="626" width="18" height="5" fill="#222"/><rect x="1913" y="683" width="18" height="5" fill="#222"/>
<rect x="1456" y="622" width="24" height="16" fill="#d9ecf7" stroke="#3b7f9a" stroke-width="1"/>
<rect x="1480" y="622" width="50" height="16" fill="#d9f0f7" stroke="#3b7f9a" stroke-width="1"/>
<rect x="1530" y="622" width="23" height="16" fill="#d3efe6" stroke="#2a7a6a" stroke-width="1"/>
<rect x="1478" y="687" width="28" height="17" fill="#d9ecf7" stroke="#3b6f9a" stroke-width="1"/>
<rect x="1506" y="687" width="28" height="17" fill="#d3efe6" stroke="#2a7a6a" stroke-width="1"/>
<g font-size="13" text-anchor="middle">
<text x="1468" y="635">E3</text><text x="1505" y="635">E3a</text><text x="1541" y="635">E4</text>
<text x="1492" y="701">E3</text><text x="1520" y="701">E4</text>
</g>
<line x1="1267" y1="710" x2="1267" y2="977" stroke="#222" stroke-width="1.3" stroke-dasharray="2,3"/>
<line x1="1360" y1="710" x2="1360" y2="977" stroke="#222" stroke-width="1.3" stroke-dasharray="2,3"/>
<rect x="1191" y="950.3" width="24" height="26.7" fill="#66f7f2"/>
<rect x="1283" y="910.2" width="24" height="66.8" fill="#5ec4ff"/>
<rect x="1376" y="859.5" width="24" height="117.5" fill="#ff6fd4"/>
<g stroke-width="2">
<line x1="1203" y1="950" x2="1203" y2="946" stroke="#66f7f2"/><line x1="1295" y1="910" x2="1295" y2="897" stroke="#5ec4ff"/><line x1="1388" y1="859" x2="1388" y2="843" stroke="#ff6fd4"/>
<line x1="1329" y1="977" x2="1329" y2="966" stroke="#5ec4ff"/><line x1="1323" y1="966" x2="1335" y2="966" stroke="#5ec4ff"/>
</g>
<g fill="#000">
<circle cx="1199" cy="946" r="6.5"/><circle cx="1207" cy="948" r="6.5"/><circle cx="1201" cy="951" r="6.5"/><circle cx="1209" cy="954" r="6.5"/><circle cx="1200" cy="956" r="6.5"/>
<circle cx="1234" cy="977" r="6.5"/><circle cx="1240" cy="977" r="6.5"/>
<circle cx="1296" cy="894" r="6.5"/><circle cx="1291" cy="900" r="6.5"/><circle cx="1299" cy="905" r="6.5"/><circle cx="1292" cy="911" r="6.5"/><circle cx="1298" cy="918" r="6.5"/><circle cx="1291" cy="924" r="6.5"/><circle cx="1295" cy="929" r="6.5"/>
<circle cx="1329" cy="958" r="6.5"/><circle cx="1326" cy="977" r="6.5"/><circle cx="1332" cy="977" r="6.5"/>
<circle cx="1390" cy="833" r="6.5"/><circle cx="1385" cy="839" r="6.5"/><circle cx="1388" cy="857" r="6.5"/><circle cx="1392" cy="865" r="6.5"/><circle cx="1384" cy="870" r="6.5"/><circle cx="1390" cy="881" r="6.5"/><circle cx="1387" cy="889" r="6.5"/>
<circle cx="1419" cy="977" r="6.5"/><circle cx="1425" cy="977" r="6.5"/>
</g>
<g stroke="#111" stroke-width="2.5">
<line x1="1178" y1="710" x2="1178" y2="977"/><line x1="1177" y1="977" x2="1446" y2="977"/>
</g>
<g stroke="#111" stroke-width="2">
<line x1="1162" y1="710" x2="1178" y2="710"/><line x1="1162" y1="763.4" x2="1178" y2="763.4"/><line x1="1162" y1="816.8" x2="1178" y2="816.8"/><line x1="1162" y1="870.2" x2="1178" y2="870.2"/><line x1="1162" y1="923.6" x2="1178" y2="923.6"/><line x1="1162" y1="977" x2="1178" y2="977"/>
<line x1="1201" y1="977" x2="1201" y2="995"/><line x1="1237" y1="977" x2="1237" y2="995"/><line x1="1294" y1="977" x2="1294" y2="995"/><line x1="1329" y1="977" x2="1329" y2="995"/><line x1="1387" y1="977" x2="1387" y2="995"/><line x1="1422" y1="977" x2="1422" y2="995"/>
<line x1="1203" y1="932" x2="1239" y2="932"/><line x1="1290" y1="883" x2="1326" y2="883"/><line x1="1385" y1="819" x2="1421" y2="819"/>
<line x1="1190" y1="1030" x2="1248" y2="1030"/><line x1="1284" y1="1030" x2="1344" y2="1030"/><line x1="1378" y1="1030" x2="1436" y2="1030"/>
</g>
<g font-size="19" text-anchor="end">
<text x="1156" y="717">1.0</text><text x="1156" y="770">0.8</text><text x="1156" y="824">0.6</text><text x="1156" y="877">0.4</text><text x="1156" y="931">0.2</text><text x="1156" y="984">0.0</text>
</g>
<g font-size="18" text-anchor="middle">
<text x="1219" y="1019" textLength="66">Ctr PDS</text><text x="1312" y="1019" textLength="66">Ctr PDS</text><text x="1405" y="1019" textLength="66">Ctr PDS</text>
<text x="1219" y="1049">33°C</text><text x="1314" y="1049">35°C</text><text x="1407" y="1049">37°C</text>
<text transform="translate(1117,843) rotate(-90)" font-size="16">PSI</text>
</g>
<g font-size="32" class="b" text-anchor="middle" letter-spacing="-1">
<text x="1221" y="943">***</text><text x="1308" y="894">****</text><text x="1403" y="830">****</text>
</g>
<line x1="1654" y1="712" x2="1654" y2="977" stroke="#222" stroke-width="1.3" stroke-dasharray="2,3"/>
<line x1="1745" y1="712" x2="1745" y2="977" stroke="#222" stroke-width="1.3" stroke-dasharray="2,3"/>
<line x1="1836" y1="712" x2="1836" y2="977" stroke="#222" stroke-width="1.3" stroke-dasharray="2,3"/>
<rect x="1578" y="957.1" width="24" height="19.9" fill="#66f7f2"/>
<rect x="1670" y="957.1" width="24" height="19.9" fill="#5ec4ff"/>
<rect x="1762" y="942.5" width="24" height="34.5" fill="#ff6fd4"/>
<rect x="1853" y="831.2" width="24" height="145.8" fill="#ff0a85"/>
<g stroke-width="2">
<line x1="1774" y1="942" x2="1774" y2="929" stroke="#ff6fd4"/><line x1="1768" y1="929" x2="1780" y2="929" stroke="#ff6fd4"/>
<line x1="1865" y1="831" x2="1865" y2="791" stroke="#ff0a85"/><line x1="1859" y1="791" x2="1871" y2="791" stroke="#ff0a85"/>
</g>
<g fill="#000">
<circle cx="1588" cy="950" r="6.5"/><circle cx="1594" cy="953" r="6.5"/><circle cx="1588" cy="956" r="6.5"/><circle cx="1593" cy="960" r="6.5"/><circle cx="1590" cy="963" r="6.5"/><circle cx="1592" cy="967" r="6.5"/>
<circle cx="1621" cy="977" r="6.5"/><circle cx="1627" cy="977" r="6.5"/>
<circle cx="1679" cy="951" r="6.5"/><circle cx="1685" cy="954" r="6.5"/><circle cx="1680" cy="957" r="6.5"/><circle cx="1686" cy="960" r="6.5"/><circle cx="1682" cy="962" r="6.5"/>
<circle cx="1713" cy="977" r="6.5"/><circle cx="1719" cy="977" r="6.5"/>
<circle cx="1768" cy="924" r="6.5"/><circle cx="1776" cy="937" r="6.5"/><circle cx="1771" cy="945" r="6.5"/><circle cx="1777" cy="950" r="6.5"/><circle cx="1772" cy="956" r="6.5"/>
<circle cx="1805" cy="977" r="6.5"/><circle cx="1811" cy="977" r="6.5"/>
<circle cx="1870" cy="778" r="6.5"/><circle cx="1861" cy="789" r="6.5"/><circle cx="1867" cy="818" r="6.5"/><circle cx="1862" cy="845" r="6.5"/><circle cx="1868" cy="858" r="6.5"/><circle cx="1861" cy="866" r="6.5"/><circle cx="1867" cy="871" r="6.5"/>
<circle cx="1895" cy="977" r="6.5"/><circle cx="1901" cy="977" r="6.5"/>
</g>
<g stroke="#111" stroke-width="2.5">
<line x1="1566" y1="712" x2="1566" y2="977"/><line x1="1565" y1="977" x2="1921" y2="977"/>
</g>
<g stroke="#111" stroke-width="2">
<line x1="1550" y1="712" x2="1566" y2="712"/><line x1="1550" y1="765" x2="1566" y2="765"/><line x1="1550" y1="818" x2="1566" y2="818"/><line x1="1550" y1="871" x2="1566" y2="871"/><line x1="1550" y1="924" x2="1566" y2="924"/><line x1="1550" y1="977" x2="1566" y2="977"/>
<line x1="1590" y1="977" x2="1590" y2="995"/><line x1="1624" y1="977" x2="1624" y2="995"/><line x1="1682" y1="977" x2="1682" y2="995"/><line x1="1716" y1="977" x2="1716" y2="995"/><line x1="1774" y1="977" x2="1774" y2="995"/><line x1="1808" y1="977" x2="1808" y2="995"/><line x1="1865" y1="977" x2="1865" y2="995"/><line x1="1898" y1="977" x2="1898" y2="995"/>
<line x1="1588" y1="941" x2="1625" y2="941"/><line x1="1678" y1="938" x2="1715" y2="938"/><line x1="1773" y1="907" x2="1809" y2="907"/><line x1="1863" y1="757" x2="1900" y2="757"/>
<line x1="1577" y1="1027" x2="1633" y2="1027"/><line x1="1665" y1="1027" x2="1731" y2="1027"/><line x1="1766" y1="1027" x2="1824" y2="1027"/><line x1="1853" y1="1027" x2="1911" y2="1027"/>
</g>
<g font-size="19" text-anchor="end">
<text x="1544" y="719">1.0</text><text x="1544" y="772">0.8</text><text x="1544" y="825">0.6</text><text x="1544" y="878">0.4</text><text x="1544" y="931">0.2</text><text x="1544" y="984">0.0</text>
</g>
<g font-size="18" text-anchor="middle">
<text x="1607" y="1014" textLength="66">Ctr PDS</text><text x="1699" y="1014" textLength="66">Ctr PDS</text><text x="1791" y="1014" textLength="66">Ctr PDS</text><text x="1882" y="1014" textLength="66">Ctr PDS</text>
<text x="1605" y="1052">33°C</text><text x="1698" y="1052">35°C</text><text x="1791" y="1052">37°C</text><text x="1882" y="1052">40°C</text>
<text transform="translate(1511,852) rotate(-90)" font-size="16">PSI</text>
</g>
<g font-size="32" class="b" text-anchor="middle" letter-spacing="-1">
<text x="1606" y="952">***</text><text x="1696" y="949">****</text><text x="1791" y="918">**</text><text x="1881" y="768">***</text>
</g>

<!-- ================= PANEL J ================= -->
<text x="10" y="1078" font-size="30" class="b">j</text>
<text x="252" y="1073" font-size="20" class="b" text-anchor="middle">R1</text>
<text x="227" y="1097" font-size="18" class="b" text-anchor="middle" textLength="253">RBM3 exon 3a 3'-splice site</text>
<polygon points="135,1108 149,1108 142,1120" fill="#222"/>
<g stroke="#3b5b85" stroke-width="1.5">
<line x1="134" y1="1125" x2="409" y2="1125"/>
<line x1="135.8" y1="1125" x2="135.8" y2="1135"/><line x1="151.4" y1="1125" x2="151.4" y2="1130"/><line x1="167" y1="1125" x2="167" y2="1130"/><line x1="182.6" y1="1125" x2="182.6" y2="1130"/><line x1="198.2" y1="1125" x2="198.2" y2="1132"/><line x1="213.8" y1="1125" x2="213.8" y2="1130"/><line x1="229.4" y1="1125" x2="229.4" y2="1130"/><line x1="245" y1="1125" x2="245" y2="1130"/><line x1="260.6" y1="1125" x2="260.6" y2="1130"/><line x1="276.2" y1="1125" x2="276.2" y2="1135"/><line x1="291.8" y1="1125" x2="291.8" y2="1130"/><line x1="307.4" y1="1125" x2="307.4" y2="1130"/><line x1="323" y1="1125" x2="323" y2="1130"/><line x1="338.6" y1="1125" x2="338.6" y2="1130"/><line x1="354.2" y1="1125" x2="354.2" y2="1132"/><line x1="369.8" y1="1125" x2="369.8" y2="1130"/><line x1="385.4" y1="1125" x2="385.4" y2="1130"/><line x1="401" y1="1125" x2="401" y2="1130"/>
<line x1="134" y1="1554" x2="409" y2="1554"/>
<line x1="135.8" y1="1554" x2="135.8" y2="1563"/><line x1="151.4" y1="1554" x2="151.4" y2="1559"/><line x1="167" y1="1554" x2="167" y2="1559"/><line x1="182.6" y1="1554" x2="182.6" y2="1559"/><line x1="198.2" y1="1554" x2="198.2" y2="1561"/><line x1="213.8" y1="1554" x2="213.8" y2="1559"/><line x1="229.4" y1="1554" x2="229.4" y2="1559"/><line x1="245" y1="1554" x2="245" y2="1559"/><line x1="260.6" y1="1554" x2="260.6" y2="1559"/><line x1="276.2" y1="1554" x2="276.2" y2="1563"/><line x1="291.8" y1="1554" x2="291.8" y2="1559"/><line x1="307.4" y1="1554" x2="307.4" y2="1559"/><line x1="323" y1="1554" x2="323" y2="1559"/><line x1="338.6" y1="1554" x2="338.6" y2="1559"/><line x1="354.2" y1="1554" x2="354.2" y2="1561"/><line x1="369.8" y1="1554" x2="369.8" y2="1559"/><line x1="385.4" y1="1554" x2="385.4" y2="1559"/><line x1="401" y1="1554" x2="401" y2="1559"/>
</g>
<g font-size="14" text-anchor="middle">
<text x="135.8" y="1150" style="fill:#2a5a8a">1</text><text x="276.2" y="1150" style="fill:#2a5a8a">10</text>
<text x="135.8" y="1579" style="fill:#2a5a8a">1</text><text x="276.2" y="1579" style="fill:#2a5a8a">10</text>
</g>
<text x="120" y="1141" font-size="18" class="b" text-anchor="end">Mammals</text>
<g>
<rect x="128" y="1152" width="281" height="22" fill="#f8c67a"/>
<rect x="128" y="1182" width="281" height="299" fill="#f8c67a"/>
<rect x="206" y="1152" width="15.6" height="22" fill="#a6e3a0"/><rect x="206" y="1182" width="15.6" height="299" fill="#a6e3a0"/>
<rect x="252.8" y="1152" width="15.6" height="22" fill="#ef9a9a"/><rect x="252.8" y="1182" width="15.6" height="299" fill="#ef9a9a"/>
<rect x="315.2" y="1152" width="15.6" height="22" fill="#7ebbe6"/><rect x="315.2" y="1182" width="15.6" height="299" fill="#7ebbe6"/>
<rect x="330.8" y="1152" width="15.6" height="22" fill="#ef9a9a"/><rect x="330.8" y="1182" width="15.6" height="299" fill="#ef9a9a"/>
<rect x="362" y="1152" width="15.6" height="22" fill="#7ebbe6"/><rect x="362" y="1182" width="15.6" height="299" fill="#7ebbe6"/>
</g>
<rect x="120" y="1176" width="289" height="3" fill="#c8c8c8"/>
<rect x="120" y="1481" width="289" height="3" fill="#c8c8c8"/>
<g font-size="14" text-anchor="middle" style="fill:#222">
<text x="135.8 151.4 167 182.6 198.2 213.8 229.4 245 260.6 276.2 291.8 307.4 323 338.6 354.2 369.8 385.4 401" y="1168">GGGGGTGGAGGGCAGCGG</text>
<text x="135.8 151.4 167 182.6 198.2 213.8 229.4 245 260.6 276.2 291.8 307.4 323 338.6 354.2 369.8 385.4 401" y="1198">GGGGGTGGAGGGCAGCGG</text>
<text x="135.8 151.4 167 182.6 198.2 213.8 229.4 245 260.6 276.2 291.8 307.4 323 338.6 354.2 369.8 385.4 401" y="1219.4">GGGGGTGGAGGGCAGCGG</text>
<text x="135.8 151.4 167 182.6 198.2 213.8 229.4 245 260.6 276.2 291.8 307.4 323 338.6 354.2 369.8 385.4 401" y="1240.7">GGGGGTGGAGGGCAGCGG</text>
<text x="135.8 151.4 167 182.6 198.2 213.8 229.4 245 260.6 276.2 291.8 307.4 323 338.6 354.2 369.8 385.4 401" y="1262">GGGGGTGGAGGGCAGCGG</text>
<text x="135.8 151.4 167 182.6 198.2 213.8 229.4 245 260.6 276.2 291.8 307.4 323 338.6 354.2 369.8 385.4 401" y="1283.4">GGGGGTGGAGGGCAGCGG</text>
<text x="135.8 151.4 167 182.6 198.2 213.8 229.4 245 260.6 276.2 291.8 307.4 323 338.6 354.2 369.8 385.4 401" y="1304.8">GGGGGTGGAGGGCAGCGG</text>
<text x="135.8 151.4 167 182.6 198.2 213.8 229.4 245 260.6 276.2 291.8 307.4 323 338.6 354.2 369.8 385.4 401" y="1326.1">GGGGGTGGAGGGCAGCGG</text>
<text x="135.8 151.4 167 182.6 198.2 213.8 229.4 245 260.6 276.2 291.8 307.4 323 338.6 354.2 369.8 385.4 401" y="1347.5">GGGGGTGGAGGGCAGCGG</text>
<text x="135.8 151.4 167 182.6 198.2 213.8 229.4 245 260.6 276.2 291.8 307.4 323 338.6 354.2 369.8 385.4 401" y="1368.8">GGGGGTGGAGGGCAGCGG</text>
<text x="135.8 151.4 167 182.6 198.2 213.8 229.4 245 260.6 276.2 291.8 307.4 323 338.6 354.2 369.8 385.4 401" y="1390.2">GGGGGTGGAGGGCAGCGG</text>
<text x="135.8 151.4 167 182.6 198.2 213.8 229.4 245 260.6 276.2 291.8 307.4 323 338.6 354.2 369.8 385.4 401" y="1411.5">GGGGGTGGAGGGCAGCGG</text>
<text x="135.8 151.4 167 182.6 198.2 213.8 229.4 245 260.6 276.2 291.8 307.4 323 338.6 354.2 369.8 385.4 401" y="1432.9">GGGGGTGGAGGGCAGCGG</text>
<text x="135.8 151.4 167 182.6 198.2 213.8 229.4 245 260.6 276.2 291.8 307.4 323 338.6 354.2 369.8 385.4 401" y="1454.2">GGGGGTGGAGGGCAGCGG</text>
<text x="135.8 151.4 167 182.6 198.2 213.8 229.4 245 260.6 276.2 291.8 307.4 323 338.6 354.2 369.8 385.4 401" y="1475.6">GGGGGTGGAGGGCAGCGG</text>
</g>
<g font-size="20" text-anchor="end">
<text x="120" y="1168">Consensus</text><text x="120" y="1189">Human</text><text x="120" y="1209">Macaque</text><text x="120" y="1230">Baboon</text><text x="120" y="1250">Rat</text><text x="120" y="1271">Mouse</text><text x="120" y="1292">Dog</text><text x="120" y="1312">Elephant</text><text x="120" y="1333">Cow</text><text x="120" y="1353">Goat</text><text x="120" y="1374">Horse</text><text x="120" y="1394">Rabbit</text><text x="120" y="1415">Cat</text><text x="120" y="1435">Seal</text><text x="120" y="1456">Whale</text>
<text x="120" y="1498">Sequence</text><text x="120" y="1518">Logo</text>
</g>
<g font-size="18" text-anchor="middle">
<text transform="translate(135.8,1548) scale(1,4.89)" style="fill:#d4951c">G</text>
<text transform="translate(151.4,1548) scale(1,4.89)" style="fill:#d4951c">G</text>
<text transform="translate(167,1548) scale(1,4.89)" style="fill:#d4951c">G</text>
<text transform="translate(182.6,1548) scale(1,4.89)" style="fill:#d4951c">G</text>
<text transform="translate(198.2,1548) scale(1,4.89)" style="fill:#d4951c">G</text>
<text transform="translate(213.8,1548) scale(1,4.89)" style="fill:#1fb21f">T</text>
<text transform="translate(229.4,1548) scale(1,4.89)" style="fill:#d4951c">G</text>
<text transform="translate(245,1548) scale(1,4.89)" style="fill:#d4951c">G</text>
<text transform="translate(260.6,1548) scale(1,4.89)" style="fill:#d51f1f">A</text>
<text transform="translate(276.2,1548) scale(1,4.89)" style="fill:#d4951c">G</text>
<text transform="translate(291.8,1548) scale(1,4.89)" style="fill:#d4951c">G</text>
<text transform="translate(307.4,1548) scale(1,4.89)" style="fill:#d4951c">G</text>
<text transform="translate(323,1548) scale(1,4.89)" style="fill:#1b75c0">C</text>
<text transform="translate(338.6,1548) scale(1,4.89)" style="fill:#d51f1f">A</text>
<text transform="translate(354.2,1548) scale(1,4.89)" style="fill:#d4951c">G</text>
<text transform="translate(369.8,1548) scale(1,4.89)" style="fill:#1b75c0">C</text>
<text transform="translate(385.4,1548) scale(1,4.89)" style="fill:#d4951c">G</text>
<text transform="translate(401,1548) scale(1,4.89)" style="fill:#d4951c">G</text>
</g>

<!-- ================= PANEL K ================= -->
<text x="455" y="1082" font-size="30" class="b">k</text>
<text x="757" y="1073" font-size="20" class="b" text-anchor="middle">R3</text>
<g stroke="#3b5b85" stroke-width="1.5">
<line x1="558" y1="1122" x2="928" y2="1122"/>
<line x1="558.9" y1="1122" x2="558.9" y2="1132"/><line x1="574.6" y1="1122" x2="574.6" y2="1127"/><line x1="590.3" y1="1122" x2="590.3" y2="1127"/><line x1="606" y1="1122" x2="606" y2="1127"/><line x1="621.7" y1="1122" x2="621.7" y2="1129"/><line x1="637.4" y1="1122" x2="637.4" y2="1127"/><line x1="653.1" y1="1122" x2="653.1" y2="1127"/><line x1="668.8" y1="1122" x2="668.8" y2="1127"/><line x1="684.5" y1="1122" x2="684.5" y2="1127"/><line x1="700.2" y1="1122" x2="700.2" y2="1132"/><line x1="715.9" y1="1122" x2="715.9" y2="1127"/><line x1="731.6" y1="1122" x2="731.6" y2="1127"/><line x1="747.3" y1="1122" x2="747.3" y2="1127"/><line x1="763" y1="1122" x2="763" y2="1127"/><line x1="778.7" y1="1122" x2="778.7" y2="1129"/><line x1="794.4" y1="1122" x2="794.4" y2="1127"/><line x1="810.1" y1="1122" x2="810.1" y2="1127"/><line x1="825.8" y1="1122" x2="825.8" y2="1127"/><line x1="841.5" y1="1122" x2="841.5" y2="1127"/><line x1="857.2" y1="1122" x2="857.2" y2="1132"/><line x1="872.9" y1="1122" x2="872.9" y2="1127"/><line x1="888.6" y1="1122" x2="888.6" y2="1127"/><line x1="904.3" y1="1122" x2="904.3" y2="1127"/><line x1="920" y1="1122" x2="920" y2="1127"/>
<line x1="558" y1="1555" x2="928" y2="1555"/>
<line x1="558.9" y1="1555" x2="558.9" y2="1564"/><line x1="574.6" y1="1555" x2="574.6" y2="1560"/><line x1="590.3" y1="1555" x2="590.3" y2="1560"/><line x1="606" y1="1555" x2="606" y2="1560"/><line x1="621.7" y1="1555" x2="621.7" y2="1562"/><line x1="637.4" y1="1555" x2="637.4" y2="1560"/><line x1="653.1" y1="1555" x2="653.1" y2="1560"/><line x1="668.8" y1="1555" x2="668.8" y2="1560"/><line x1="684.5" y1="1555" x2="684.5" y2="1560"/><line x1="700.2" y1="1555" x2="700.2" y2="1564"/><line x1="715.9" y1="1555" x2="715.9" y2="1560"/><line x1="731.6" y1="1555" x2="731.6" y2="1560"/><line x1="747.3" y1="1555" x2="747.3" y2="1560"/><line x1="763" y1="1555" x2="763" y2="1560"/><line x1="778.7" y1="1555" x2="778.7" y2="1562"/><line x1="794.4" y1="1555" x2="794.4" y2="1560"/><line x1="810.1" y1="1555" x2="810.1" y2="1560"/><line x1="825.8" y1="1555" x2="825.8" y2="1560"/><line x1="841.5" y1="1555" x2="841.5" y2="1560"/><line x1="857.2" y1="1555" x2="857.2" y2="1564"/><line x1="872.9" y1="1555" x2="872.9" y2="1560"/><line x1="888.6" y1="1555" x2="888.6" y2="1560"/><line x1="904.3" y1="1555" x2="904.3" y2="1560"/><line x1="920" y1="1555" x2="920" y2="1560"/>
</g>
<g font-size="14" text-anchor="middle">
<text x="558.9" y="1147" style="fill:#2a5a8a">1</text><text x="700.2" y="1147" style="fill:#2a5a8a">10</text><text x="857.2" y="1147" style="fill:#2a5a8a">20</text>
<text x="558.9" y="1581" style="fill:#2a5a8a">1</text><text x="700.2" y="1581" style="fill:#2a5a8a">10</text><text x="857.2" y="1581" style="fill:#2a5a8a">20</text>
</g>
<text x="540" y="1137" font-size="18" class="b" text-anchor="end">Mammals</text>
<rect x="551" y="1151" width="377" height="21" fill="#f8c67a"/>
<rect x="551" y="1180" width="377" height="301" fill="#f8c67a"/>
<g>
<rect x="598.1" y="1151" width="15.7" height="21" fill="#7ebbe6"/><rect x="598.1" y="1180" width="15.7" height="301" fill="#7ebbe6"/>
<rect x="613.8" y="1151" width="15.7" height="21" fill="#ef9a9a"/><rect x="613.8" y="1180" width="15.7" height="301" fill="#ef9a9a"/>
<rect x="645.2" y="1151" width="15.7" height="21" fill="#7ebbe6"/><rect x="645.2" y="1180" width="15.7" height="301" fill="#7ebbe6"/>
<rect x="660.9" y="1151" width="31.4" height="21" fill="#a6e3a0"/><rect x="660.9" y="1180" width="31.4" height="301" fill="#a6e3a0"/>
<rect x="692.3" y="1151" width="15.7" height="21" fill="#ef9a9a"/><rect x="692.3" y="1180" width="15.7" height="301" fill="#ef9a9a"/>
<rect x="723.7" y="1151" width="15.7" height="21" fill="#ef9a9a"/><rect x="723.7" y="1180" width="15.7" height="301" fill="#ef9a9a"/>
<rect x="770.8" y="1151" width="15.7" height="21" fill="#ef9a9a"/><rect x="770.8" y="1180" width="15.7" height="301" fill="#ef9a9a"/>
<rect x="802.2" y="1151" width="15.7" height="21" fill="#a6e3a0"/><rect x="802.2" y="1180" width="15.7" height="301" fill="#a6e3a0"/>
<rect x="880.7" y="1151" width="15.7" height="21" fill="#ef9a9a"/><rect x="880.7" y="1180" width="15.7" height="301" fill="#ef9a9a"/>
<rect x="708" y="1287.5" width="15.7" height="21.5" fill="#a6e3a0"/>
<rect x="708" y="1416.5" width="15.7" height="21.5" fill="#a6e3a0"/>
<rect x="708" y="1438" width="15.7" height="21.5" fill="#a6e3a0"/>
</g>
<rect x="540" y="1173" width="388" height="3" fill="#c8c8c8"/>
<rect x="540" y="1481" width="388" height="3" fill="#c8c8c8"/>
<g font-size="14" text-anchor="middle" style="fill:#222">
<text x="558.9 574.6 590.3 606 621.7 637.4 653.1 668.8 684.5 700.2 715.9 731.6 747.3 763 778.7 794.4 810.1 825.8 841.5 857.2 872.9 888.6 904.3 920" y="1166">GGGCAGCTTAGAGGAGTGGGGAGG</text>
<text x="558.9 574.6 590.3 606 621.7 637.4 653.1 668.8 684.5 700.2 715.9 731.6 747.3 763 778.7 794.4 810.1 825.8 841.5 857.2 872.9 888.6 904.3 920" y="1196">GGGCAGCTTAGAGGAGTGGGGAGG</text>
<text x="558.9 574.6 590.3 606 621.7 637.4 653.1 668.8 684.5 700.2 715.9 731.6 747.3 763 778.7 794.4 810.1 825.8 841.5 857.2 872.9 888.6 904.3 920" y="1217.5">GGGCAGCTTAGAGGAGTGGGGAGG</text>
<text x="558.9 574.6 590.3 606 621.7 637.4 653.1 668.8 684.5 700.2 715.9 731.6 747.3 763 778.7 794.4 810.1 825.8 841.5 857.2 872.9 888.6 904.3 920" y="1239">GGGCAGCTTAGAGGAGTGGGGAGG</text>
<text x="558.9 574.6 590.3 606 621.7 637.4 653.1 668.8 684.5 700.2 715.9 731.6 747.3 763 778.7 794.4 810.1 825.8 841.5 857.2 872.9 888.6 904.3 920" y="1260.5">GGGCAGCTTAGAGGAGTGGGGAGG</text>
<text x="558.9 574.6 590.3 606 621.7 637.4 653.1 668.8 684.5 700.2 715.9 731.6 747.3 763 778.7 794.4 810.1 825.8 841.5 857.2 872.9 888.6 904.3 920" y="1282">GGGCAGCTTAGAGGAGTGGGGAGG</text>
<text x="558.9 574.6 590.3 606 621.7 637.4 653.1 668.8 684.5 700.2 715.9 731.6 747.3 763 778.7 794.4 810.1 825.8 841.5 857.2 872.9 888.6 904.3 920" y="1303.5">GGGCAGCTTATAGGAGTGGGGAGG</text>
<text x="558.9 574.6 590.3 606 621.7 637.4 653.1 668.8 684.5 700.2 715.9 731.6 747.3 763 778.7 794.4 810.1 825.8 841.5 857.2 872.9 888.6 904.3 920" y="1325">GGGCAGCTTAGAGGAGTGGGGAGG</text>
<text x="558.9 574.6 590.3 606 621.7 637.4 653.1 668.8 684.5 700.2 715.9 731.6 747.3 763 778.7 794.4 810.1 825.8 841.5 857.2 872.9 888.6 904.3 920" y="1346.5">GGGCAGCTTAGAGGAGTGGGGAGG</text>
<text x="558.9 574.6 590.3 606 621.7 637.4 653.1 668.8 684.5 700.2 715.9 731.6 747.3 763 778.7 794.4 810.1 825.8 841.5 857.2 872.9 888.6 904.3 920" y="1368">GGGCAGCTTAGAGGAGTGGGGAGG</text>
<text x="558.9 574.6 590.3 606 621.7 637.4 653.1 668.8 684.5 700.2 715.9 731.6 747.3 763 778.7 794.4 810.1 825.8 841.5 857.2 872.9 888.6 904.3 920" y="1389.5">GGGCAGCTTAGAGGAGTGGGGAGG</text>
<text x="558.9 574.6 590.3 606 621.7 637.4 653.1 668.8 684.5 700.2 715.9 731.6 747.3 763 778.7 794.4 810.1 825.8 841.5 857.2 872.9 888.6 904.3 920" y="1411">GGGCAGCTTAGAGGAGTGGGGAGG</text>
<text x="558.9 574.6 590.3 606 621.7 637.4 653.1 668.8 684.5 700.2 715.9 731.6 747.3 763 778.7 794.4 810.1 825.8 841.5 857.2 872.9 888.6 904.3 920" y="1432.5">GGGCAGCTTATAGGAGTGGGGAGG</text>
<text x="558.9 574.6 590.3 606 621.7 637.4 653.1 668.8 684.5 700.2 715.9 731.6 747.3 763 778.7 794.4 810.1 825.8 841.5 857.2 872.9 888.6 904.3 920" y="1454">GGGCAGCTTATAGGAGTGGGGAGG</text>
<text x="558.9 574.6 590.3 606 621.7 637.4 653.1 668.8 684.5 700.2 715.9 731.6 747.3 763 778.7 794.4 810.1 825.8 841.5 857.2 872.9 888.6 904.3 920" y="1475.5">GGGCAGCTTAGAGGAGTGGGGAGG</text>
</g>
<g font-size="20" text-anchor="end">
<text x="543" y="1162">Consensus</text><text x="543" y="1182">Human</text><text x="543" y="1203">Macaque</text><text x="543" y="1223">Baboon</text><text x="543" y="1243">Rat</text><text x="543" y="1264">Mouse</text><text x="543" y="1285">Dog</text><text x="543" y="1305">Elephant</text><text x="543" y="1326">Cow</text><text x="543" y="1347">Goat</text><text x="543" y="1367">Horse</text><text x="543" y="1388">Rabbit</text><text x="543" y="1408">Cat</text><text x="543" y="1429">Seal</text><text x="543" y="1449">Whale</text>
<text x="543" y="1490">Sequence</text><text x="543" y="1512">Logo</text>
</g>
<g font-size="18" text-anchor="middle">
<text transform="translate(558.9,1550) scale(1,4.89)" style="fill:#d4951c">G</text>
<text transform="translate(574.6,1550) scale(1,4.89)" style="fill:#d4951c">G</text>
<text transform="translate(590.3,1550) scale(1,4.89)" style="fill:#d4951c">G</text>
<text transform="translate(606,1550) scale(1,4.89)" style="fill:#1b75c0">C</text>
<text transform="translate(621.7,1550) scale(1,4.89)" style="fill:#d51f1f">A</text>
<text transform="translate(637.4,1550) scale(1,4.89)" style="fill:#d4951c">G</text>
<text transform="translate(653.1,1550) scale(1,4.89)" style="fill:#1b75c0">C</text>
<text transform="translate(668.8,1550) scale(1,4.89)" style="fill:#1fb21f">T</text>
<text transform="translate(684.5,1550) scale(1,4.89)" style="fill:#1fb21f">T</text>
<text transform="translate(700.2,1550) scale(1,4.89)" style="fill:#d51f1f">A</text>
<text transform="translate(715.9,1539) scale(1,1.94)" style="fill:#d4951c">G</text>
<text transform="translate(715.9,1549) scale(1,0.6)" style="fill:#1fb21f">T</text>
<text transform="translate(731.6,1550) scale(1,4.89)" style="fill:#d51f1f">A</text>
<text transform="translate(747.3,1550) scale(1,4.89)" style="fill:#d4951c">G</text>
<text transform="translate(763,1550) scale(1,4.89)" style="fill:#d4951c">G</text>
<text transform="translate(778.7,1550) scale(1,4.89)" style="fill:#d51f1f">A</text>
<text transform="translate(794.4,1550) scale(1,4.89)" style="fill:#d4951c">G</text>
<text transform="translate(810.1,1550) scale(1,4.89)" style="fill:#1fb21f">T</text>
<text transform="translate(825.8,1550) scale(1,4.89)" style="fill:#d4951c">G</text>
<text transform="translate(841.5,1550) scale(1,4.89)" style="fill:#d4951c">G</text>
<text transform="translate(857.2,1550) scale(1,4.89)" style="fill:#d4951c">G</text>
<text transform="translate(872.9,1550) scale(1,4.89)" style="fill:#d4951c">G</text>
<text transform="translate(888.6,1550) scale(1,4.89)" style="fill:#d51f1f">A</text>
<text transform="translate(904.3,1550) scale(1,4.89)" style="fill:#d4951c">G</text>
<text transform="translate(920,1550) scale(1,4.89)" style="fill:#d4951c">G</text>
</g>

<!-- ================= PANEL L ================= -->
<text x="950" y="1084" font-size="30" class="b">l</text>
<text x="1118" y="1151" font-size="23" class="b" text-anchor="middle">mRBM3 minigene</text>
<line x1="1033" y1="1185" x2="1087" y2="1185" stroke="#333" stroke-width="1.2"/>
<line x1="1166" y1="1185" x2="1234" y2="1185" stroke="#333" stroke-width="1.2"/>
<rect x="987" y="1175" width="46" height="22" fill="#dbe9f6" stroke="#5a8ac0" stroke-width="1.2"/>
<rect x="1087" y="1175" width="79" height="22" fill="#d5eef7" stroke="#4a9ab0" stroke-width="1.2"/>
<rect x="1234" y="1175" width="48" height="22" fill="#d3efe8" stroke="#2a7a6a" stroke-width="1.2"/>
<g font-size="20" text-anchor="middle">
<text x="1010" y="1193">E3</text><text x="1126" y="1193">E3a</text><text x="1258" y="1193">E4</text>
</g>
<g font-size="16" class="b" text-anchor="middle">
<text x="1098" y="1215" style="fill:#4aa3a8">R1</text><text x="1152" y="1215" style="fill:#4aa3a8">R3</text>
</g>
<g font-size="22">
<text x="946" y="1276" textLength="375" lengthAdjust="spacingAndGlyphs"><tspan class="b" style="fill:#4aa3a8">R1</tspan>: <tspan style="fill:#f5b041">ggggg</tspan>t<tspan style="fill:#f5b041">gg</tspan>a<tspan style="fill:#f5b041">ggg</tspan>cagc<tspan style="fill:#f5b041">gg</tspan>cagacag</text>
<text x="946" y="1299" textLength="362" lengthAdjust="spacingAndGlyphs"><tspan class="b" style="fill:#4aa3a8">R3</tspan>: <tspan style="fill:#f5b041">ggg</tspan>cagcttaga<tspan style="fill:#f5b041">gg</tspan>agt<tspan style="fill:#f5b041">gggg</tspan>a<tspan style="fill:#f5b041">gg</tspan>a</text>
<text x="946" y="1464" textLength="358" lengthAdjust="spacingAndGlyphs"><tspan class="b" style="fill:#4aa3a8">R1</tspan>: <tspan style="fill:#f5b041">g</tspan><tspan style="fill:#8fcf7f">cccc</tspan>t<tspan style="fill:#8fcf7f">cc</tspan>a<tspan style="fill:#8fcf7f">ccc</tspan>cagc<tspan style="fill:#8fcf7f">cc</tspan>cagacag</text>
<text x="946" y="1487" textLength="351" lengthAdjust="spacingAndGlyphs"><tspan class="b" style="fill:#4aa3a8">R3</tspan>: <tspan style="fill:#f5b041">ggg</tspan>cagcttaga<tspan style="fill:#8fcf7f">cc</tspan>agt<tspan style="fill:#8fcf7f">cccc</tspan>a<tspan style="fill:#8fcf7f">cc</tspan>a</text>
</g>
<text x="1111" y="1335" font-size="23" class="b" text-anchor="middle">WT</text>
<rect x="1109.5" y="1356" width="5" height="68" fill="url(#ga)"/>
<polygon points="1100,1420 1124,1420 1112,1443" fill="#222"/>
<text x="1128" y="1397" font-size="23" class="b">Mutation</text>
<text x="1124" y="1524" font-size="23" class="b" text-anchor="middle">R13-2G</text>

<!-- ================= PANEL M ================= -->
<text x="1318" y="1084" font-size="30" class="b">m</text>
<g font-size="17" class="b">
<text transform="translate(1399,1133) rotate(-40)">WT</text>
<text transform="translate(1432,1131) rotate(-40)">R13-2G</text>
<text transform="translate(1483,1133) rotate(-40)">WT</text>
<text transform="translate(1525,1131) rotate(-40)">R13-2G</text>
</g>
<g fill="#f4f4f4">
<rect x="1388" y="1143" width="76" height="60"/><rect x="1474" y="1143" width="69" height="60"/>
<rect x="1677" y="1131" width="77" height="62"/><rect x="1759" y="1131" width="73" height="62"/><rect x="1839" y="1131" width="75" height="62"/>
</g>
<g filter="url(#bl)" fill="#000">
<rect x="1393" y="1149" width="30" height="4" rx="2" fill-opacity=".35"/><rect x="1430" y="1147" width="30" height="7" rx="3"/>
<rect x="1392" y="1183" width="31" height="13" rx="5"/><rect x="1430" y="1186" width="30" height="8" rx="3" fill-opacity=".85"/>
<rect x="1478" y="1148" width="28" height="6" rx="3" fill-opacity=".7"/><rect x="1512" y="1147" width="28" height="6" rx="3" fill-opacity=".95"/>
<rect x="1478" y="1186" width="28" height="7" rx="3" fill-opacity=".75"/><rect x="1512" y="1188" width="28" height="4" rx="2" fill-opacity=".1"/>
<rect x="1720" y="1136" width="29" height="5" rx="2" fill-opacity=".9"/>
<rect x="1682" y="1180" width="30" height="9" rx="4"/><rect x="1720" y="1181" width="29" height="5" rx="2" fill-opacity=".35"/>
<rect x="1763" y="1140" width="29" height="4" rx="2" fill-opacity=".35"/><rect x="1799" y="1139" width="29" height="6" rx="3"/>
<rect x="1763" y="1175" width="29" height="9" rx="4" fill-opacity=".85"/><rect x="1799" y="1177" width="29" height="4" rx="2" fill-opacity=".3"/>
<rect x="1843" y="1138" width="31" height="7" rx="3"/><rect x="1881" y="1138" width="30" height="7" rx="3"/>
<rect x="1843" y="1175" width="31" height="8" rx="3" fill-opacity=".75"/>
</g>
<g fill="none" stroke="#111" stroke-width="2.2">
<rect x="1388" y="1143" width="76" height="60"/><rect x="1474" y="1143" width="69" height="60"/>
<rect x="1677" y="1131" width="77" height="62"/><rect x="1759" y="1131" width="73" height="62"/><rect x="1839" y="1131" width="75" height="62"/>
</g>
<text x="1298" y="1151" font-size="21" textLength="66">478bp</text><text x="1298" y="1197" font-size="21" textLength="66">207bp</text>
<rect x="1367" y="1148" width="19" height="5" fill="#222"/><rect x="1367" y="1191" width="19" height="5" fill="#222"/>
<rect x="1546" y="1144" width="26" height="16" fill="#d9ecf7" stroke="#3b7f9a" stroke-width="1"/>
<rect x="1572" y="1144" width="62" height="16" fill="#d9f0f7" stroke="#3b7f9a" stroke-width="1"/>
<rect x="1634" y="1144" width="38" height="16" fill="#d3efe6" stroke="#2a7a6a" stroke-width="1"/>
<rect x="1574" y="1185" width="29" height="14" fill="#d9ecf7" stroke="#3b6f9a" stroke-width="1"/>
<rect x="1603" y="1185" width="29" height="14" fill="#d3efe6" stroke="#2a7a6a" stroke-width="1"/>
<g font-size="14" text-anchor="middle">
<text x="1559" y="1157">E3</text><text x="1603" y="1157">E3a</text><text x="1653" y="1157">E4</text>
<text x="1588.5" y="1197">E3</text><text x="1617.5" y="1197">E4</text>
</g>
<line x1="1477" y1="1214" x2="1477" y2="1485" stroke="#222" stroke-width="1.3" stroke-dasharray="2,3"/>
<rect x="1399" y="1466" width="24" height="19" fill="#66fafa"/>
<rect x="1436" y="1382" width="23" height="103" fill="#66fafa"/>
<rect x="1495" y="1395.6" width="24" height="89.4" fill="#ff0a85"/>
<rect x="1531" y="1265.5" width="26" height="219.5" fill="#ff0a85"/>
<g stroke-width="2">
<line x1="1411" y1="1466" x2="1411" y2="1447" stroke="#66fafa"/><line x1="1405" y1="1447" x2="1417" y2="1447" stroke="#66fafa"/>
<line x1="1447" y1="1382" x2="1447" y2="1337" stroke="#66fafa"/><line x1="1441" y1="1337" x2="1453" y2="1337" stroke="#66fafa"/>
<line x1="1507" y1="1395" x2="1507" y2="1384" stroke="#ff0a85"/>
<line x1="1544" y1="1265" x2="1544" y2="1241" stroke="#ff0a85"/>
</g>
<g fill="#000">
<circle cx="1406" cy="1452" r="6.5"/><circle cx="1416" cy="1458" r="6.5"/><circle cx="1411" cy="1485" r="6.5"/>
<circle cx="1447" cy="1349" r="6.5"/><circle cx="1447" cy="1363" r="6.5"/><circle cx="1447" cy="1431" r="6.5"/>
<circle cx="1507" cy="1377" r="6.5"/><circle cx="1507" cy="1396" r="6.5"/><circle cx="1507" cy="1417" r="6.5"/>
<circle cx="1547" cy="1244" r="6.5"/><circle cx="1541" cy="1255" r="6.5"/><circle cx="1546" cy="1268" r="6.5"/><circle cx="1543" cy="1290" r="6.5"/>
</g>
<g stroke="#111" stroke-width="2.5">
<line x1="1387" y1="1214" x2="1387" y2="1485"/><line x1="1386" y1="1485" x2="1571" y2="1485"/>
</g>
<g stroke="#111" stroke-width="2">
<line x1="1372" y1="1214" x2="1387" y2="1214"/><line x1="1372" y1="1268.2" x2="1387" y2="1268.2"/><line x1="1372" y1="1322.4" x2="1387" y2="1322.4"/><line x1="1372" y1="1376.6" x2="1387" y2="1376.6"/><line x1="1372" y1="1430.8" x2="1387" y2="1430.8"/><line x1="1372" y1="1485" x2="1387" y2="1485"/>
<line x1="1411" y1="1485" x2="1411" y2="1503"/><line x1="1447" y1="1485" x2="1447" y2="1503"/><line x1="1507" y1="1485" x2="1507" y2="1503"/><line x1="1544" y1="1485" x2="1544" y2="1503"/>
<line x1="1408" y1="1325" x2="1449" y2="1325"/><line x1="1503" y1="1229" x2="1547" y2="1229"/>
<line x1="1360" y1="1569" x2="1413" y2="1569"/><line x1="1468" y1="1569" x2="1513" y2="1569"/>
</g>
<g font-size="20" text-anchor="end">
<text x="1363" y="1221">1.0</text><text x="1363" y="1275">0.8</text><text x="1363" y="1329">0.6</text><text x="1363" y="1384">0.4</text><text x="1363" y="1438">0.2</text><text x="1363" y="1492">0.0</text>
</g>
<g font-size="17" text-anchor="end">
<text transform="translate(1415,1509) rotate(-45)">WT</text><text transform="translate(1451,1509) rotate(-45)">R13-2G</text>
<text transform="translate(1511,1509) rotate(-45)">WT</text><text transform="translate(1548,1509) rotate(-45)">R13-2G</text>
</g>
<g font-size="18" text-anchor="middle">
<text x="1384" y="1594">33°C</text><text x="1489" y="1594">39°C</text>
<text transform="translate(1327,1352) rotate(-90)" font-size="17">PSI</text>
</g>
<text x="1445" y="1613" font-size="21" class="b" text-anchor="middle">HEK293T</text>
<g font-size="32" class="b" text-anchor="middle" letter-spacing="-1">
<text x="1428" y="1336">*</text><text x="1525" y="1240">****</text>
</g>

<!-- ================= PANEL N ================= -->
<text x="1675" y="1082" font-size="30" class="b">n</text>
<g font-size="17" class="b">
<text transform="translate(1702,1122) rotate(-40)">WT</text>
<text transform="translate(1740,1120) rotate(-40)">R13-2G</text>
<text transform="translate(1783,1121) rotate(-40)">WT</text>
<text transform="translate(1822,1118) rotate(-40)">R13-2G</text>
<text transform="translate(1862,1120) rotate(-40)">WT</text>
<text transform="translate(1902,1116) rotate(-40)">R13-2G</text>
</g>
<text x="1934" y="1147" font-size="21" textLength="64">478bp</text><text x="1934" y="1194" font-size="21" textLength="64">207bp</text>
<rect x="1915" y="1136" width="18" height="5" fill="#222"/><rect x="1915" y="1183" width="18" height="5" fill="#222"/>
<line x1="1753" y1="1223" x2="1753" y2="1483" stroke="#222" stroke-width="1.3" stroke-dasharray="2,3"/>
<line x1="1844" y1="1223" x2="1844" y2="1483" stroke="#222" stroke-width="1.3" stroke-dasharray="2,3"/>
<rect x="1680" y="1478" width="22" height="5" fill="#66fafa"/>
<rect x="1714" y="1397.2" width="22" height="85.8" fill="#66fafa"/>
<rect x="1771" y="1397.2" width="22" height="85.8" fill="#ff6fd4"/>
<rect x="1804" y="1272.4" width="22" height="210.6" fill="#ff6fd4"/>
<rect x="1862" y="1363.4" width="22" height="119.6" fill="#ff0a85"/>
<rect x="1895" y="1246.4" width="22" height="236.6" fill="#ff0a85"/>
<g stroke-width="2">
<line x1="1725" y1="1397" x2="1725" y2="1374" stroke="#66fafa"/><line x1="1719" y1="1374" x2="1731" y2="1374" stroke="#66fafa"/>
<line x1="1782" y1="1397" x2="1782" y2="1346" stroke="#ff6fd4"/><line x1="1776" y1="1346" x2="1788" y2="1346" stroke="#ff6fd4"/>
<line x1="1816" y1="1272" x2="1816" y2="1245" stroke="#ff6fd4"/><line x1="1810" y1="1245" x2="1822" y2="1245" stroke="#ff6fd4"/>
<line x1="1872" y1="1363" x2="1872" y2="1337" stroke="#ff0a85"/>
<line x1="1906" y1="1246" x2="1906" y2="1233" stroke="#ff0a85"/>
</g>
<g fill="#000">
<circle cx="1687" cy="1482" r="6"/><circle cx="1697" cy="1479" r="6"/><circle cx="1690" cy="1471" r="6"/><circle cx="1697" cy="1467" r="6"/>
<circle cx="1725" cy="1363" r="6"/><circle cx="1722" cy="1402" r="6"/><circle cx="1731" cy="1405" r="6"/><circle cx="1721" cy="1418" r="6"/>
<circle cx="1782" cy="1327" r="6"/><circle cx="1782" cy="1392" r="6"/><circle cx="1777" cy="1434" r="6"/><circle cx="1787" cy="1436" r="6"/>
<circle cx="1812" cy="1252" r="6"/><circle cx="1820" cy="1262" r="6"/><circle cx="1816" cy="1301" r="6"/>
<circle cx="1872" cy="1330" r="6"/><circle cx="1867" cy="1379" r="6"/><circle cx="1877" cy="1379" r="6"/><circle cx="1871" cy="1382" r="6"/>
<circle cx="1902" cy="1228" r="6"/><circle cx="1910" cy="1236" r="6"/><circle cx="1906" cy="1275" r="6"/>
</g>
<g stroke="#111" stroke-width="2.5">
<line x1="1668" y1="1223" x2="1668" y2="1483"/><line x1="1667" y1="1483" x2="1928" y2="1483"/>
</g>
<g stroke="#111" stroke-width="2">
<line x1="1653" y1="1223" x2="1668" y2="1223"/><line x1="1653" y1="1275" x2="1668" y2="1275"/><line x1="1653" y1="1327" x2="1668" y2="1327"/><line x1="1653" y1="1379" x2="1668" y2="1379"/><line x1="1653" y1="1431" x2="1668" y2="1431"/><line x1="1653" y1="1483" x2="1668" y2="1483"/>
<line x1="1691" y1="1483" x2="1691" y2="1500"/><line x1="1725" y1="1483" x2="1725" y2="1500"/><line x1="1782" y1="1483" x2="1782" y2="1500"/><line x1="1816" y1="1483" x2="1816" y2="1500"/><line x1="1872" y1="1483" x2="1872" y2="1500"/><line x1="1906" y1="1483" x2="1906" y2="1500"/>
<line x1="1687" y1="1346" x2="1727" y2="1346"/><line x1="1779" y1="1236" x2="1818" y2="1236"/><line x1="1865" y1="1214" x2="1904" y2="1214"/>
<line x1="1645" y1="1568" x2="1688" y2="1568"/><line x1="1743" y1="1568" x2="1787" y2="1568"/><line x1="1835" y1="1568" x2="1877" y2="1568"/>
</g>
<g font-size="20" text-anchor="end">
<text x="1645" y="1230">1.0</text><text x="1645" y="1282">0.8</text><text x="1645" y="1334">0.6</text><text x="1645" y="1386">0.4</text><text x="1645" y="1438">0.2</text><text x="1645" y="1490">0.0</text>
</g>
<g font-size="17" text-anchor="end">
<text transform="translate(1695,1507) rotate(-45)">WT</text><text transform="translate(1729,1507) rotate(-45)">R13-2G</text>
<text transform="translate(1786,1507) rotate(-45)">WT</text><text transform="translate(1820,1507) rotate(-45)">R13-2G</text>
<text transform="translate(1876,1507) rotate(-45)">WT</text><text transform="translate(1910,1507) rotate(-45)">R13-2G</text>
</g>
<g font-size="18" text-anchor="middle">
<text x="1668" y="1593">33°C</text><text x="1766" y="1593">37°C</text><text x="1857" y="1593">39°C</text>
<text transform="translate(1603,1361) rotate(-90)" font-size="17">PSI</text>
</g>
<text x="1783" y="1613" font-size="21" class="b" text-anchor="middle">N2a</text>
<g font-size="32" class="b" text-anchor="middle" letter-spacing="-1">
<text x="1707" y="1357">***</text><text x="1798" y="1247">*</text><text x="1884" y="1225">*</text>
</g>
</svg>
</body></html>
